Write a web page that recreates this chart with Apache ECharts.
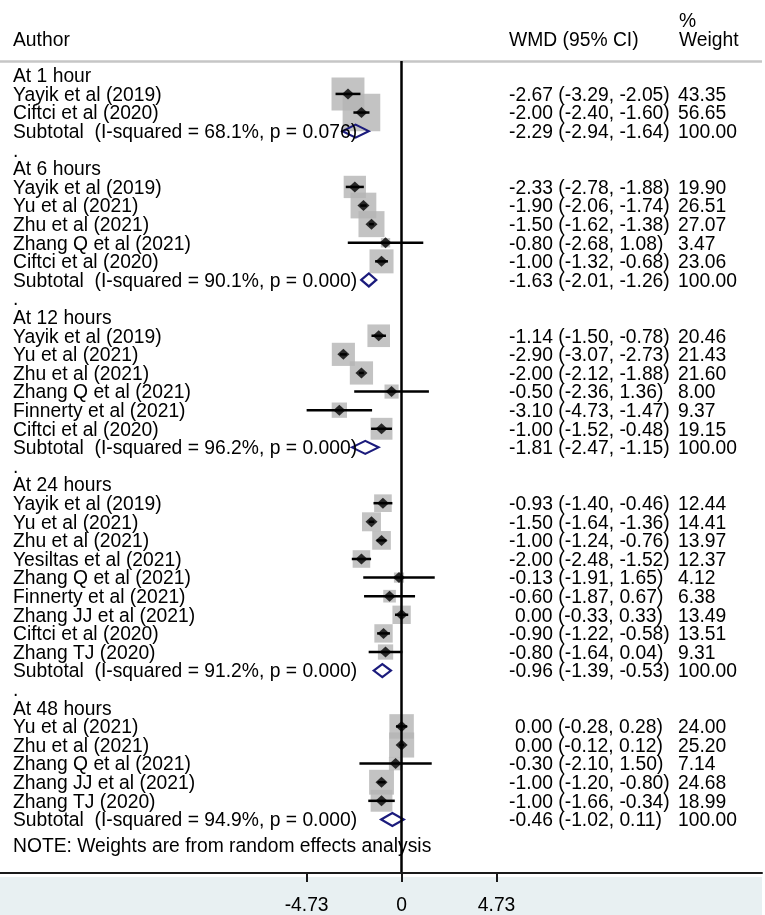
<!DOCTYPE html>
<html>
<head>
<meta charset="utf-8">
<title>Forest plot</title>
<script src="https://cdn.jsdelivr.net/npm/echarts@6.0.0/dist/echarts.min.js"></script>
<style>
    html, body { margin: 0; padding: 0; background: #fff; }
    #forest { width: 765px; height: 915px; }
</style>
</head>
<body>
<div id="forest"></div>
<script>
// ================* DATA *

var groupNames = ['At 1 hour', 'At 6 hours', 'At 12 hours', 'At 24 hours', 'At 48 hours'];

// one entry per study, studyGroup = index into groupNames
var studyGroup = [0, 0,
    1, 1, 1, 1, 1,
    2, 2, 2, 2, 2, 2,
    3, 3, 3, 3, 3, 3, 3, 3, 3,
    4, 4, 4, 4, 4];
var studyNames = [
    'Yayik et al (2019)', 'Ciftci et al (2020)',
    'Yayik et al (2019)', 'Yu et al (2021)', 'Zhu et al (2021)', 'Zhang Q et al (2021)', 'Ciftci et al (2020)',
    'Yayik et al (2019)', 'Yu et al (2021)', 'Zhu et al (2021)', 'Zhang Q et al (2021)', 'Finnerty et al (2021)', 'Ciftci et al (2020)',
    'Yayik et al (2019)', 'Yu et al (2021)', 'Zhu et al (2021)', 'Yesiltas et al (2021)', 'Zhang Q et al (2021)',
    'Finnerty et al (2021)', 'Zhang JJ et al (2021)', 'Ciftci et al (2020)', 'Zhang TJ (2020)',
    'Yu et al (2021)', 'Zhu et al (2021)', 'Zhang Q et al (2021)', 'Zhang JJ et al (2021)', 'Zhang TJ (2020)'
];
var studyWmd = [-2.67, -2.00,
    -2.33, -1.90, -1.50, -0.80, -1.00,
    -1.14, -2.90, -2.00, -0.50, -3.10, -1.00,
    -0.93, -1.50, -1.00, -2.00, -0.13, -0.60, 0.00, -0.90, -0.80,
    0.00, 0.00, -0.30, -1.00, -1.00];
var studyLow = [-3.29, -2.40,
    -2.78, -2.06, -1.62, -2.68, -1.32,
    -1.50, -3.07, -2.12, -2.36, -4.73, -1.52,
    -1.40, -1.64, -1.24, -2.48, -1.91, -1.87, -0.33, -1.22, -1.64,
    -0.28, -0.12, -2.10, -1.20, -1.66];
var studyHigh = [-2.05, -1.60,
    -1.88, -1.74, -1.38, 1.08, -0.68,
    -0.78, -2.73, -1.88, 1.36, -1.47, -0.48,
    -0.46, -1.36, -0.76, -1.52, 1.65, 0.67, 0.33, -0.58, 0.04,
    0.28, 0.12, 1.50, -0.80, -0.34];
var studyWeight = [43.35, 56.65,
    19.90, 26.51, 27.07, 3.47, 23.06,
    20.46, 21.43, 21.60, 8.00, 9.37, 19.15,
    12.44, 14.41, 13.97, 12.37, 4.12, 6.38, 13.49, 13.51, 9.31,
    24.00, 25.20, 7.14, 24.68, 18.99];

// subtotals, one per group
var subHet = ['I-squared = 68.1%, p = 0.076', 'I-squared = 90.1%, p = 0.000', 'I-squared = 96.2%, p = 0.000',
    'I-squared = 91.2%, p = 0.000', 'I-squared = 94.9%, p = 0.000'];
var subWmd = [-2.29, -1.63, -1.81, -0.96, -0.46];
var subLow = [-2.94, -2.01, -2.47, -1.39, -1.02];
var subHigh = [-1.64, -1.26, -1.15, -0.53, 0.11];
var subWeight = [100, 100, 100, 100, 100];

var xTicks = [-4.73, 0, 4.73];
var noteText = 'NOTE: Weights are from random effects analysis';

// ================* ROWS *

var FAMILY = '"Liberation Sans", Arial, sans-serif';
var FONT = '19.3px ' + FAMILY;

function fmtCi(e, l, h) {
    return e.toFixed(2) + ' (' + l.toFixed(2) + ', ' + h.toFixed(2) + ')';
}

var textRows = [];   // [row, left text, wmd text, weight text]
var boxData = [];    // [wmd, row, weight]
var ciData = [];     // [low, high, row]
var subData = [];    // [low, wmd, high, row]
var row = 1;

groupNames.forEach(function (g, gi) {
    textRows.push([row++, g, '', '']);
    studyGroup.forEach(function (sg, i) {
        if (sg != gi) return;
        textRows.push([row, studyNames[i], fmtCi(studyWmd[i], studyLow[i], studyHigh[i]), studyWeight[i].toFixed(2)]);
        boxData.push([studyWmd[i], row, studyWeight[i]]);
        ciData.push([studyLow[i], studyHigh[i], row]);
        row++;
    });
    textRows.push([row, 'Subtotal  (' + subHet[gi] + ')', fmtCi(subWmd[gi], subLow[gi], subHigh[gi]), subWeight[gi].toFixed(2)]);
    subData.push([subLow[gi], subWmd[gi], subHigh[gi], row]);
    row++;
    // the dot spacer row, not after the last group
    if (gi < groupNames.length - 1) textRows.push([row++, '.', '', '']);
});
textRows.push([row + 0.36, noteText, '', '']);

function txt(x, y, s) {
    return {
        type: 'text',
        style: {
            text: s, x: x, y: y, fill: '#000', font: FONT,
            align: 'left', verticalAlign: 'middle',
            textAlign: 'left', textVerticalAlign: 'middle'
        }
    };
}

function renderText(params, api) {
    var r = textRows[params.dataIndex];
    var y = api.coord([0, api.value(1)])[1] + 1.5;
    var kids = [txt(13, y, r[1])];
    if (r[2]) kids.push(txt(r[2].charAt(0) == '-' ? 509 : 515, y, r[2]));
    if (r[3]) kids.push(txt(678, y, r[3]));
    return { type: 'group', children: kids };
}

function renderCi(params, api) {
    var a = api.coord([api.value(0), api.value(2)]);
    var b = api.coord([api.value(1), api.value(2)]);
    return {
        type: 'line',
        shape: { x1: a[0], y1: a[1], x2: b[0], y2: b[1] },
        style: { stroke: '#000', lineWidth: 2.5 }
    };
}

function renderSub(params, api) {
    var l = api.coord([api.value(0), api.value(3)]);
    var m = api.coord([api.value(1), api.value(3)]);
    var h = api.coord([api.value(2), api.value(3)]);
    return {
        type: 'polygon',
        shape: { points: [[l[0], l[1]], [m[0], m[1] - 6.5], [h[0], h[1]], [m[0], m[1] + 6.5]] },
        style: { fill: 'none', stroke: '#1b1b7c', lineWidth: 2.2 }
    };
}

// ================* CHART *

var forest = echarts.init(document.getElementById('forest'));
var option1 = {
    animation: false,
    backgroundColor: '#fff',
    grid: { left: 0, right: 3, top: 61, bottom: 39 },
    xAxis: {
        type: 'value',
        min: -20,
        max: 17.948,
        z: 10,
        splitLine: { show: false },
        axisLine: { show: true, onZero: false, lineStyle: { color: '#1a1a1a', width: 2 } },
        axisTick: { show: true, length: 9, customValues: xTicks, lineStyle: { color: '#1a1a1a', width: 2 } },
        axisLabel: {
            customValues: xTicks,
            margin: 23,
            color: '#000',
            fontSize: 19.3,
            fontFamily: FAMILY,
            formatter: function (v) { return v == 0 ? '0' : v.toFixed(2); }
        }
    },
    yAxis: {
        type: 'value',
        inverse: true,
        min: 0.23,
        max: 43.88,
        show: false
    },
    graphic: [
        { type: 'rect', z: -1, shape: { x: 0, y: 877, width: 762, height: 38 }, style: { fill: '#e8f0f2' } },
        { type: 'line', shape: { x1: 0, y1: 61.5, x2: 762, y2: 61.5 }, style: { stroke: '#c6c6c6', lineWidth: 2.5 } },
        { type: 'text', style: { text: 'Author', x: 13, y: 40.5, font: FONT, fill: '#000', verticalAlign: 'middle' } },
        { type: 'text', style: { text: 'WMD (95% CI)', x: 509, y: 40.5, font: FONT, fill: '#000', verticalAlign: 'middle' } },
        { type: 'text', style: { text: '%', x: 679, y: 22, font: FONT, fill: '#000', verticalAlign: 'middle' } },
        { type: 'text', style: { text: 'Weight', x: 679, y: 40.5, font: FONT, fill: '#000', verticalAlign: 'middle' } }
    ],
    series: [{
            name: 'weight box',
            type: 'scatter',
            z: 2,
            symbol: 'rect',
            symbolSize: function (v) { return 5 * Math.sqrt(v[2]); },
            itemStyle: { color: '#b4b4b4' },
            data: boxData
        },
        {
            name: 'ci',
            type: 'custom',
            z: 3,
            renderItem: renderCi,
            encode: { x: [0, 1], y: 2 },
            data: ciData,
            markLine: {
                silent: true,
                symbol: 'none',
                label: { show: false },
                lineStyle: { color: '#000', width: 2.5, type: 'solid' },
                data: [{ xAxis: 0 }]
            }
        },
        {
            name: 'wmd',
            type: 'scatter',
            z: 4,
            symbol: 'diamond',
            symbolSize: [12, 11],
            itemStyle: { color: '#000' },
            data: boxData
        },
        {
            name: 'subtotal',
            type: 'custom',
            z: 4,
            renderItem: renderSub,
            encode: { x: [0, 1, 2], y: 3 },
            data: subData
        },
        {
            name: 'text',
            type: 'custom',
            z: 5,
            renderItem: renderText,
            encode: { x: 0, y: 1 },
            data: textRows.map(function (r) { return [0, r[0]]; })
        }
    ]
};
forest.setOption(option1);
</script>
</body>
</html>
